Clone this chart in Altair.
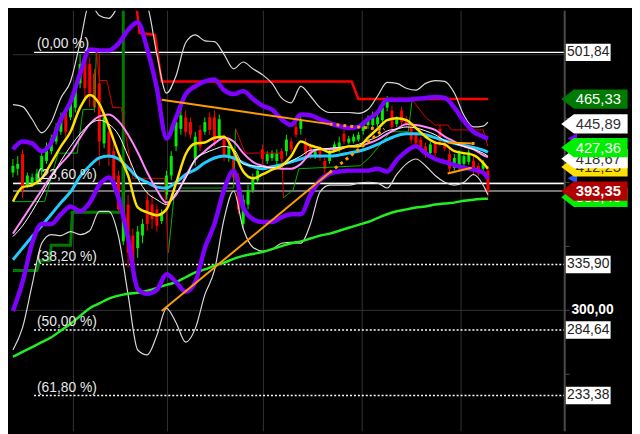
import altair as alt
import pandas as pd

# ---------------- data (prices) ----------------
line_t = list(range(0, 100, 2)) + [99]   # session index of line samples

purple_upper = [426.0, 432.1, 430.6, 424.5, 431.3, 449.5, 463.2, 485.2, 504.1, 503.4,
                503.4, 508.7, 519.3, 525.4, 504.1, 473.8, 434.4, 451.0, 469.2, 475.3,
                479.1, 480.6, 472.3, 469.2, 471.5, 465.5, 460.1, 457.1, 449.5, 445.0,
                453.3, 452.6, 449.5, 446.5, 444.2, 442.7, 443.5, 449.5, 454.8, 464.7,
                464.7, 464.7, 465.5, 466.2, 467.0, 466.2, 458.6, 448.0, 439.7, 435.9, 434.4]
purple_lower = [299.4, 322.1, 352.5, 367.6, 367.6, 375.2, 381.3, 377.5, 384.3, 398.0,
                404.0, 388.1, 356.2, 316.8, 313.0, 316.1, 328.2, 322.1, 314.5, 322.1,
                348.7, 367.6, 394.2, 409.3, 380.5, 371.4, 369.1, 369.1, 372.9, 375.2,
                375.2, 390.4, 401.7, 407.0, 408.6, 409.3, 409.3, 409.3, 410.8, 408.6,
                417.7, 424.5, 428.3, 423.0, 418.4, 416.2, 413.9, 411.6, 410.1, 407.8, 403.3]
white_upper = [460.9, 459.4, 449.5, 438.9, 447.3, 466.2, 479.1, 509.4, 540.5, 530.7,
               528.4, 538.2, 545.8, 545.8, 538.2, 500.3, 470.0, 483.6, 509.4, 515.5,
               510.9, 510.2, 500.3, 489.0, 494.3, 489.0, 484.4, 477.6, 466.2, 462.4,
               475.3, 467.7, 458.6, 454.8, 454.8, 454.8, 454.1, 457.1, 467.7, 478.3,
               477.6, 473.8, 472.3, 477.6, 479.8, 479.1, 470.0, 452.6, 443.5, 444.2, 447.3]
white_lower = [269.0, 286.5, 319.9, 352.5, 359.3, 358.5, 361.6, 359.3, 362.3, 377.5,
               377.5, 357.8, 312.3, 269.0, 265.2, 280.4, 301.6, 290.3, 275.1, 285.7,
               312.3, 331.2, 371.4, 393.4, 363.8, 349.4, 346.4, 347.9, 352.5, 353.2,
               352.5, 367.6, 392.6, 398.0, 398.0, 398.0, 399.5, 400.2, 399.5, 395.7,
               406.3, 414.6, 418.4, 413.1, 405.5, 400.2, 398.0, 400.2, 406.3, 398.0, 390.4]
pink_ma = [360.0, 371.4, 382.8, 394.2, 405.5, 414.6, 423.0, 435.1, 445.7, 451.8,
           453.3, 448.0, 437.4, 423.7, 407.8, 394.2, 384.3, 390.4, 404.8, 417.7,
           424.5, 430.6, 435.1, 432.1, 423.0, 416.2, 413.1, 411.6, 410.8, 410.8,
           414.6, 423.0, 426.0, 426.0, 426.8, 428.3, 428.3, 430.6, 433.6, 438.1,
           441.9, 445.7, 445.0, 443.5, 441.2, 435.9, 432.1, 428.3, 426.0, 421.5, 419.9]
white_ma = [357.8, 366.1, 377.5, 390.4, 404.0, 416.9, 428.3, 438.1, 445.7, 448.8,
            445.7, 437.4, 420.7, 403.3, 391.9, 386.6, 382.8, 391.9, 403.3, 418.4,
            423.0, 426.0, 428.3, 426.0, 414.6, 413.1, 412.4, 411.6, 413.1, 416.9,
            420.7, 425.3, 426.0, 426.8, 427.5, 428.3, 429.8, 432.8, 435.9, 440.4,
            441.9, 443.5, 442.7, 440.4, 437.4, 432.8, 430.6, 428.3, 426.0, 423.0, 420.7]
cyan_ma = [339.6, 348.7, 357.8, 366.1, 375.2, 384.3, 392.6, 404.8, 413.1, 419.2,
           420.7, 418.4, 411.6, 404.0, 400.2, 396.4, 395.7, 400.2, 406.3, 410.1,
           415.4, 419.2, 420.7, 419.2, 415.4, 412.4, 410.8, 412.4, 413.9, 416.2,
           418.4, 420.7, 420.7, 420.7, 421.5, 423.0, 424.5, 426.8, 429.8, 433.6,
           436.6, 438.1, 438.1, 437.4, 435.1, 432.8, 430.6, 429.0, 427.5, 425.3, 423.7]
yellow_ma = [385.1, 396.4, 398.0, 403.3, 415.4, 428.3, 439.7, 458.6, 468.5, 461.6,
             443.5, 423.0, 405.5, 380.5, 376.7, 374.4, 379.0, 399.5, 422.2, 430.6,
             431.3, 435.1, 435.9, 424.5, 408.6, 403.3, 406.3, 410.1, 413.1, 420.7,
             432.1, 429.0, 426.8, 423.7, 426.0, 428.3, 428.3, 435.1, 442.0, 448.8,
             450.3, 448.8, 442.7, 435.9, 431.3, 429.8, 424.5, 423.0, 421.5, 415.4, 410.8]
green_long_ma = [263.7, 267.5, 271.3, 275.1, 278.9, 284.2, 289.5, 295.6, 301.6, 305.4,
                 309.2, 311.5, 313.0, 313.8, 315.3, 317.6, 319.9, 322.1, 325.9, 329.7,
                 332.0, 335.0, 337.3, 340.3, 342.6, 344.1, 345.6, 347.9, 350.2, 352.5,
                 354.0, 356.2, 358.5, 360.0, 362.3, 364.6, 366.9, 369.1, 372.2, 375.2,
                 377.5, 379.0, 380.5, 381.3, 382.8, 383.6, 384.3, 385.8, 386.6, 387.3, 387.3]

# step lines
red_step_t = [25.6, 26.4, 29.6, 31.0, 70.6, 72.0, 99.0]
red_step_v = [542.0, 517.0, 515.5, 479.1, 479.1, 465.3, 465.3]
dkgreen_step_t = [0, 5, 5.6, 7.6, 8, 12, 12.4, 23, 23]
dkgreen_step_v = [331.2, 331.2, 338.8, 338.8, 351.0, 351.0, 376.7, 376.7, 542.0]

stop_green_segments = [
    ([0, 6.6, 9.4, 13.4, 14.6, 17, 17.4], [385.1, 385.1, 423.0, 423.0, 457.1, 457.1, 504.1]),
    ([32.4, 33.6, 35, 46, 46.4], [344.9, 390.4, 395.7, 395.7, 442.0]),
    ([56.4, 58.4, 59.6, 72.4, 74.6, 77.4, 78.6, 82.4, 83.2],
     [388.1, 394.2, 410.8, 413.1, 420.7, 433.6, 439.7, 439.7, 464.7]),
]
stop_red_segments = [
    ([17.4, 18, 19.6, 20.8, 22.6, 25, 31.6, 32.4], [504.1, 479.8, 479.8, 458.6, 458.6, 403.3, 403.3, 344.9]),
    ([46.4, 48.4, 56, 56.4], [442.0, 423.0, 423.0, 388.1]),
    ([83.2, 84, 86, 88, 90.6, 91.4, 98, 99], [464.7, 460.9, 451.0, 445.0, 445.0, 441.2, 441.2, 428.3]),
]

# trend lines
trend_solid = [([31, 66], [464.7, 445.7]), ([31, 66], [299.4, 407.8]),
               ([90.6, 95.6], [407.1, 411.6]), ([90.6, 95.6], [431.3, 430.6])]
trend_dotted = [([66, 77], [445.7, 441.6]), ([66, 77.4], [407.8, 442.0]), ([95.6, 97], [430.6, 430.6])]

# candles
candle_t = list(range(100))
c_open = [407.8, 410.8, 422.2, 398.0, 399.5, 401.0, 409.3, 416.9, 424.5, 432.1,
          439.7, 454.8, 451.0, 458.6, 477.6, 496.5, 492.7, 485.2, 477.6, 430.6,
          439.7, 424.5, 405.5, 354.0, 382.8, 358.5, 348.7, 358.5, 386.6, 382.8,
          379.0, 369.9, 390.4, 405.5, 428.3, 442.0, 451.0, 447.3, 418.4, 441.2,
          439.7, 451.0, 451.0, 435.9, 433.6, 419.2, 420.7, 404.0, 367.6, 382.8,
          394.2, 401.7, 426.0, 416.9, 419.2, 416.9, 424.5, 424.5, 432.1, 443.5,
          442.0, 430.6, 428.3, 420.7, 426.0, 416.9, 416.9, 426.0, 426.8, 438.1,
          431.3, 432.1, 433.6, 440.4, 445.0, 445.0, 445.7, 448.8, 458.6, 456.3,
          445.7, 456.3, 449.5, 443.5, 437.4, 433.6, 428.3, 423.0, 430.6, 442.0,
          431.3, 422.2, 411.6, 411.6, 414.6, 416.2, 416.9, 413.1, 410.8, 409.3]
c_high = [418.4, 420.7, 426.0, 407.8, 407.1, 410.8, 424.5, 431.3, 437.4, 446.5,
          454.8, 458.6, 466.2, 477.6, 500.3, 500.3, 498.1, 489.0, 500.3, 454.8,
          447.3, 432.1, 409.3, 418.4, 390.4, 363.8, 366.1, 371.4, 392.6, 390.4,
          382.8, 379.0, 409.3, 424.5, 452.6, 458.6, 456.3, 451.0, 439.7, 445.0,
          451.0, 454.8, 456.3, 453.3, 437.4, 431.3, 424.5, 407.1, 390.4, 398.0,
          407.1, 413.1, 429.8, 424.5, 425.3, 426.0, 426.8, 437.4, 435.1, 446.5,
          452.6, 434.4, 430.6, 426.8, 428.3, 419.2, 426.8, 432.1, 435.9, 442.0,
          436.6, 438.1, 439.7, 447.3, 452.6, 455.6, 454.1, 461.7, 467.7, 460.1,
          451.8, 459.4, 451.8, 446.5, 439.7, 435.9, 431.3, 432.1, 432.8, 445.0,
          433.6, 426.0, 422.2, 425.3, 423.7, 426.0, 420.7, 415.4, 417.7, 413.1]
c_low = [404.0, 405.5, 388.1, 395.7, 396.4, 398.0, 405.5, 414.6, 422.2, 429.8,
         437.4, 435.9, 448.8, 454.8, 473.8, 466.2, 458.6, 454.8, 413.1, 426.8,
         413.1, 394.2, 375.2, 351.0, 333.5, 331.2, 341.1, 352.5, 362.3, 363.8,
         361.6, 367.6, 386.6, 401.7, 424.5, 437.4, 435.9, 434.4, 413.1, 424.5,
         437.4, 437.4, 428.3, 432.8, 416.9, 416.2, 399.5, 375.2, 363.8, 379.0,
         391.9, 399.5, 414.6, 414.6, 416.9, 414.6, 416.2, 420.7, 423.7, 435.1,
         437.4, 419.2, 418.4, 418.4, 416.9, 407.1, 414.6, 423.7, 423.7, 429.8,
         429.8, 430.6, 432.1, 437.4, 442.0, 442.0, 443.5, 446.5, 455.6, 440.4,
         443.5, 445.0, 442.7, 430.6, 428.3, 425.3, 419.2, 420.7, 420.7, 428.3,
         424.5, 407.8, 409.3, 409.3, 412.4, 413.9, 405.5, 404.8, 408.6, 388.9]
c_close = [413.1, 414.6, 394.2, 405.5, 404.0, 407.1, 420.7, 428.3, 434.4, 443.5,
           451.0, 439.7, 462.4, 473.8, 492.7, 473.8, 470.0, 458.6, 432.1, 451.0,
           420.7, 401.7, 379.0, 413.1, 344.9, 335.8, 361.6, 367.6, 367.6, 371.4,
           366.1, 375.2, 405.5, 420.7, 447.3, 452.6, 439.7, 437.4, 435.9, 428.3,
           447.3, 441.2, 432.1, 449.5, 420.7, 428.3, 404.0, 379.0, 386.6, 394.2,
           404.0, 409.3, 418.4, 422.2, 423.0, 423.0, 418.4, 433.6, 426.0, 437.4,
           448.8, 422.2, 420.7, 424.5, 419.2, 410.8, 424.5, 429.8, 431.3, 432.1,
           434.4, 435.9, 437.4, 445.0, 449.5, 452.6, 451.0, 458.6, 464.7, 443.5,
           449.5, 447.3, 445.0, 433.6, 430.6, 427.5, 423.0, 429.8, 423.0, 432.1,
           426.8, 410.8, 419.2, 423.0, 420.7, 423.7, 409.3, 407.1, 415.4, 393.35]

# Fibonacci levels
fib_values = [501.84, 399.32, 335.90, 284.64, 233.38]
fib_labels = ["(0,00 %)", "(23,60 %)", "(38,20 %)", "(50,00 %)", "(61,80 %)"]
fib_box_values = [501.84, 335.90, 284.64, 233.38]
fib_box_text = ["501,84", "335,90", "284,64", "233,38"]
last_price = 393.35

# right-hand price tags (drawing order)
tag_values = [465.33, 445.89, 412.25, 418.67, 427.36, 388.46, 393.35]
tag_text = ["465,33", "445,89", "412,25", "418,67", "427,36", "388,46", "393,35"]
marker_values = [434.4, 423.7, 403.3]

month_t = [12.6, 32.2, 52.2, 72.8, 93.4]
grid_values = [300, 400, 500]
tick_values = [250, 300, 350, 400, 450, 500]

# ---------------- styles ----------------
tag_fill = ["#007a00", "#ffffff", "#ffe000", "#ffffff", "#00ee00", "#00ee00", "#b00000"]
tag_font = ["#ffffff", "#333333", "#333333", "#333333", "#ffffff", "#ffffff", "#ffffff"]
marker_fill = ["#7f00ff", "#22ccff", "#2255ff"]
FONT = "Liberation Sans"
Y0, Y1 = 205.36, 534.45
AX = 115

X = alt.Scale(domain=[0, 128], nice=False, zero=False)
Y = alt.Scale(domain=[Y0, Y1], nice=False, zero=False)


def xq(f="t"):
    return alt.X(f"{f}:Q", scale=X, axis=None)


def yq(f="v"):
    return alt.Y(f"{f}:Q", scale=Y, axis=None)


def line(t, v, color, width, dash=None, interp="monotone"):
    df = pd.DataFrame({"t": t, "v": v})
    props = dict(color=color, strokeWidth=width, clip=True, interpolate=interp)
    if dash:
        props["strokeDash"] = dash
    return alt.Chart(df).mark_line(**props).encode(x=xq(), y=yq())


def hrule(values, x0, x1, color, width, dash=None):
    df = pd.DataFrame({"v": values})
    df["a"] = x0
    df["b"] = x1
    props = dict(color=color, strokeWidth=width)
    if dash:
        props["strokeDash"] = dash
    return alt.Chart(df).mark_rule(**props).encode(y=yq(), x=xq("a"), x2="b")


def vrule(ts, color, width):
    df = pd.DataFrame({"t": ts})
    df["lo"] = Y0
    df["hi"] = Y1
    return alt.Chart(df).mark_rule(color=color, strokeWidth=width).encode(x=xq(), y=yq("lo"), y2="hi")


layers = []

# grid
layers.append(vrule(month_t, "#333333", 1))
layers.append(hrule(grid_values, 0, AX, "#333333", 1))

# fib lines
layers.append(hrule(fib_values[:1], 4.4, AX, "#ffffff", 1.5))
layers.append(hrule(fib_values[1:2], 0, AX, "#ffffff", 1.5))
layers.append(hrule(fib_values[2:], 4.4, AX, "#ffffff", 1.5, dash=[2, 2]))
layers.append(hrule([last_price], 0, AX, "#9a9a9a", 1.5))

# candles
cdf = pd.DataFrame({"t": candle_t, "o": c_open, "h": c_high, "l": c_low, "c": c_close})
cdf["col"] = ["#00ee00" if c >= o else "#ff0000" for o, c in zip(c_open, c_close)]
layers.append(alt.Chart(cdf).mark_rule(strokeWidth=1).encode(
    x=xq(), y=yq("l"), y2="h", color=alt.Color("col:N", scale=None)))
layers.append(alt.Chart(cdf).mark_bar(size=3).encode(
    x=xq(), y=yq("o"), y2="c", color=alt.Color("col:N", scale=None)))

# stop / step lines
layers.append(line(dkgreen_step_t, dkgreen_step_v, "#007a00", 3, interp="linear"))
for t, v in stop_green_segments:
    layers.append(line(t, v, "#00b400", 1, interp="linear"))
for t, v in stop_red_segments:
    layers.append(line(t, v, "#e00000", 1, interp="linear"))
layers.append(line(red_step_t, red_step_v, "#ff0000", 2.5, interp="linear"))

# envelopes and averages
layers.append(line(line_t, white_upper, "#d8d8d8", 1.2))
layers.append(line(line_t, white_lower, "#d8d8d8", 1.2))
layers.append(line(line_t, green_long_ma, "#22ee22", 2.5))
layers.append(line(line_t, cyan_ma, "#22ccff", 3))
layers.append(line(line_t, pink_ma, "#ff88ff", 2))
layers.append(line(line_t, white_ma, "#ffffff", 1))
layers.append(line(line_t, yellow_ma, "#ffe000", 2.5))
layers.append(line(line_t, purple_upper, "#7f00ff", 4.5))
layers.append(line(line_t, purple_lower, "#7f00ff", 4.5))

# trend lines
for t, v in trend_solid:
    layers.append(line(t, v, "#ff9c00", 2, interp="linear"))
for t, v in trend_dotted:
    layers.append(line(t, v, "#ff9c00", 3, dash=[3, 4], interp="linear"))

# fib labels
fdf = pd.DataFrame({"v": fib_values, "label": fib_labels})
fdf["a"] = 5
layers.append(alt.Chart(fdf).mark_text(align="left", baseline="bottom", dy=-1, fontSize=14,
                                       color="#e8e8e8", font=FONT).encode(
    x=xq("a"), y=yq(), text="label:N"))

# right axis
layers.append(vrule([AX], "#4a4a4a", 2))
layers.append(hrule(tick_values, AX, AX + 1, "#4a4a4a", 1))
ldf = pd.DataFrame({"v": [300.0], "s": ["300,00"]})
ldf["a"] = 120.8
layers.append(alt.Chart(ldf).mark_text(
    align="center", baseline="middle", fontSize=14, fontWeight="bold", color="#ffffff", font=FONT).encode(
    x=xq("a"), y=yq(), text="s:N"))

box_path = "M -1 -0.39 L 1 -0.39 L 1 0.39 L -1 0.39 Z"
bdf = pd.DataFrame({"v": fib_box_values, "s": fib_box_text})
bdf["a"] = 119.9
layers.append(alt.Chart(bdf).mark_point(shape=box_path, size=2061, filled=True, opacity=1,
                                         color="#ffffff", strokeWidth=0).encode(x=xq("a"), y=yq()))
layers.append(alt.Chart(bdf).mark_text(align="center", baseline="middle", fontSize=14,
                                        color="#222222", font=FONT).encode(
    x=xq("a"), y=yq(), text="s:N"))

# small markers behind tags
mdf = pd.DataFrame({"v": marker_values, "f": marker_fill})
mdf["a"] = 116.6
layers.append(alt.Chart(mdf).mark_point(shape="triangle-left", size=120, filled=True, opacity=1,
                                         strokeWidth=0).encode(
    x=xq("a"), y=yq(), color=alt.Color("f:N", scale=None)))

# price tags
tag_path = "M -1 0 L -0.62 -0.29 L 1 -0.29 L 1 0.29 L -0.62 0.29 Z"
for i in range(len(tag_values)):
    tdf = pd.DataFrame({"v": [tag_values[i]], "s": [tag_text[i]],
                        "f": [tag_fill[i]], "fc": [tag_font[i]]})
    tdf["a"] = 121.2
    tdf["b"] = 122.0
    layers.append(alt.Chart(tdf).mark_point(shape=tag_path, size=4516, filled=True, opacity=1,
                                             strokeWidth=0).encode(
        x=xq("a"), y=yq(), color=alt.Color("f:N", scale=None)))
    layers.append(alt.Chart(tdf).mark_text(align="center", baseline="middle", fontSize=15,
                                            fontWeight="bold" if tag_text[i] == "393,35" else "normal",
                                            font=FONT).encode(
        x=xq("b"), y=yq(), text="s:N", color=alt.Color("fc:N", scale=None)))

chart = alt.layer(*layers).properties(
    width=632, height=426, padding=0,
    autosize=alt.AutoSizeParams(type="none"),
).configure(background="#000000").configure_view(strokeWidth=0)

chart.save("out.html", embed_options={"renderer": "svg", "actions": False})
